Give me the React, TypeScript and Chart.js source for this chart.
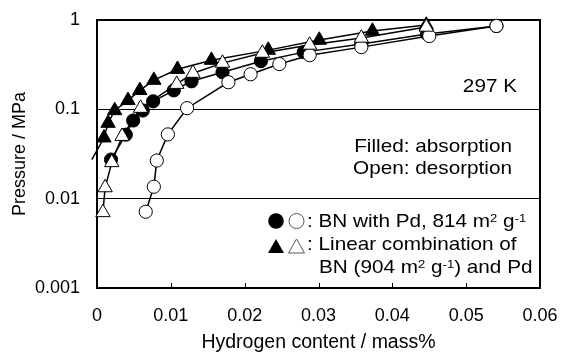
import React, { useEffect, useRef } from 'react';
import { Chart, registerables } from 'chart.js';

Chart.register(...registerables);

const FONT = "'Liberation Sans', Arial, Helvetica, sans-serif";

// Axis ticks
const xTickValues = [0, 0.01, 0.02, 0.03, 0.04, 0.05, 0.06];
const xTickLabels = ['0', '0.01', '0.02', '0.03', '0.04', '0.05', '0.06'];
const yTickValues = [0.001, 0.01, 0.1, 1];
const yTickLabels = ['0.001', '0.01', '0.1', '1'];

// Filled triangles: linear combination, absorption (first point = fitted line start, no marker)
const combAbsX = [-0.0007, 0.00095, 0.0015, 0.0024, 0.0042, 0.0058, 0.0077, 0.0109, 0.0155, 0.0232, 0.0301, 0.0373, 0.0446];
const combAbsP = [0.0274, 0.048, 0.070, 0.097, 0.126, 0.163, 0.212, 0.281, 0.355, 0.46, 0.596, 0.752, 0.879];

// Open triangles: linear combination, desorption
const combDesX = [0.0008, 0.0011, 0.002, 0.0034, 0.0059, 0.0108, 0.013, 0.017, 0.0224, 0.0288, 0.0358, 0.0446];
const combDesP = [0.007, 0.0133, 0.0254, 0.05, 0.103, 0.191, 0.254, 0.329, 0.426, 0.524, 0.628, 0.834];

// Filled circles: BN with Pd, absorption
const bnAbsX = [0.0019, 0.0039, 0.0049, 0.0062, 0.0076, 0.0104, 0.0128, 0.017, 0.0222, 0.028, 0.0358, 0.0447, 0.0541];
const bnAbsP = [0.0274, 0.052, 0.075, 0.097, 0.123, 0.163, 0.206, 0.26, 0.346, 0.437, 0.538, 0.696, 0.857];

// Open circles: BN with Pd, desorption
const bnDesX = [0.0066, 0.0077, 0.0081, 0.0096, 0.0122, 0.0178, 0.0208, 0.0247, 0.0288, 0.0358, 0.045, 0.0541];
const bnDesP = [0.00714, 0.0136, 0.0267, 0.0524, 0.103, 0.201, 0.247, 0.321, 0.404, 0.497, 0.661, 0.857];

const xTitle = 'Hydrogen content / mass%';
const yTitle = 'Pressure / MPa';
const tempLabel = '297 K';
const noteLines = ['Filled: absorption', 'Open: desorption'];
type Seg = { t: string; sup?: boolean };
const legendLine1: Seg[] = [{ t: ': BN with Pd, 814 m' }, { t: '2', sup: true }, { t: ' g' }, { t: '-1', sup: true }];
const legendLine2: Seg[] = [{ t: ': Linear combination of' }];
const legendLine3: Seg[] = [{ t: 'BN (904 m' }, { t: '2', sup: true }, { t: ' g' }, { t: '-1', sup: true }, { t: ') and Pd' }];

const pts = (xs: number[], ps: number[]) => xs.map((x, i) => ({ x, y: ps[i] }));

function drawRich(ctx: CanvasRenderingContext2D, x: number, y: number, segs: Seg[], align: 'left' | 'right', size: number, sx: number) {
  ctx.save();
  ctx.translate(x, y);
  ctx.scale(sx, 1);
  ctx.textBaseline = 'alphabetic';
  ctx.textAlign = 'left';
  ctx.fillStyle = '#000';
  const fonts = segs.map((s) => (s.sup ? `${size * 0.63}px ${FONT}` : `${size}px ${FONT}`));
  let total = 0;
  segs.forEach((s, i) => {
    ctx.font = fonts[i];
    total += ctx.measureText(s.t).width;
  });
  let cx = align === 'right' ? -total : 0;
  segs.forEach((s, i) => {
    ctx.font = fonts[i];
    ctx.fillText(s.t, cx, s.sup ? -size * 0.28 : 0);
    cx += ctx.measureText(s.t).width;
  });
  ctx.restore();
}

const framePlugin = {
  id: 'framePlugin',
  beforeDatasetsDraw(chart: any) {
    const { ctx, chartArea } = chart;
    const { left, top, right, bottom } = chartArea;
    ctx.save();
    ctx.strokeStyle = '#000';
    ctx.lineWidth = 2;
    ctx.strokeRect(left, top, right - left, bottom - top);
    ctx.lineWidth = 1;
    const xs = chart.scales.x;
    xTickValues.slice(1, -1).forEach((v) => {
      const px = Math.round(xs.getPixelForValue(v)) + 0.5;
      ctx.beginPath();
      ctx.moveTo(px, bottom);
      ctx.lineTo(px, bottom - 5);
      ctx.stroke();
    });
    ctx.restore();
  },
  afterDatasetsDraw(chart: any) {
    const { ctx } = chart;
    const S = 18.5;
    const SX = 1.12;
    drawRich(ctx, 517, 92, [{ t: tempLabel }], 'right', S, SX);
    drawRich(ctx, 512, 152, [{ t: noteLines[0] }], 'right', S, SX);
    drawRich(ctx, 512, 174, [{ t: noteLines[1] }], 'right', S, SX);
    drawRich(ctx, 307, 227, legendLine1, 'left', S, SX);
    drawRich(ctx, 307, 250, legendLine2, 'left', S, SX);
    drawRich(ctx, 319, 273, legendLine3, 'left', S, SX);
    // legend symbols
    ctx.save();
    ctx.fillStyle = '#000';
    ctx.beginPath();
    ctx.arc(276, 221, 7.8, 0, Math.PI * 2);
    ctx.fill();
    ctx.strokeStyle = '#555';
    ctx.lineWidth = 1;
    ctx.beginPath();
    ctx.arc(296.5, 221, 7.5, 0, Math.PI * 2);
    ctx.stroke();
    const tri = (cx: number, cy: number, w: number, h: number) => {
      ctx.beginPath();
      ctx.moveTo(cx, cy - h / 2);
      ctx.lineTo(cx + w / 2, cy + h / 2);
      ctx.lineTo(cx - w / 2, cy + h / 2);
      ctx.closePath();
    };
    tri(276, 246, 16, 14);
    ctx.fill();
    tri(296.5, 246, 16, 14);
    ctx.stroke();
    ctx.restore();
  },
};

export default function App() {
  const ref = useRef<HTMLCanvasElement>(null);
  useEffect(() => {
    if (!ref.current) return;
    const triR = 8.3;
    const circR = 6.6;
    const chart = new Chart(ref.current, {
      type: 'scatter',
      data: {
        datasets: [
          {
            label: 'Linear combination desorption',
            data: pts(combDesX, combDesP),
            showLine: true,
            borderColor: '#000',
            borderWidth: 1.5,
            pointStyle: 'triangle',
            pointRadius: triR,
            pointBorderWidth: 1,
            pointBorderColor: '#000',
            pointBackgroundColor: '#fff',
            backgroundColor: '#fff',
            order: 0,
            clip: false,
          },
          {
            label: 'BN with Pd desorption',
            data: pts(bnDesX, bnDesP),
            showLine: true,
            borderColor: '#000',
            borderWidth: 1.5,
            pointStyle: 'circle',
            pointRadius: circR,
            pointBorderWidth: 1,
            pointBorderColor: '#000',
            pointBackgroundColor: '#fff',
            backgroundColor: '#fff',
            order: 1,
            clip: false,
          },
          {
            label: 'Linear combination absorption',
            data: pts(combAbsX, combAbsP),
            showLine: true,
            borderColor: '#000',
            borderWidth: 1.5,
            pointStyle: 'triangle',
            pointRadius: (c: any) => (c.dataIndex === 0 ? 0 : triR),
            pointBorderWidth: 1,
            pointBorderColor: '#000',
            pointBackgroundColor: '#000',
            backgroundColor: '#000',
            order: 2,
            clip: false,
          },
          {
            label: 'BN with Pd absorption',
            data: pts(bnAbsX, bnAbsP),
            showLine: true,
            borderColor: '#000',
            borderWidth: 1.5,
            pointStyle: 'circle',
            pointRadius: circR,
            pointBorderWidth: 1,
            pointBorderColor: '#000',
            pointBackgroundColor: '#000',
            backgroundColor: '#000',
            order: 3,
            clip: false,
          },
        ] as any,
      },
      options: {
        animation: false,
        responsive: false,
        devicePixelRatio: 1,
        layout: { padding: { top: 20, right: 21, bottom: 0, left: 0 } },
        plugins: { legend: { display: false }, tooltip: { enabled: false } },
        elements: { line: { tension: 0 } },
        scales: {
          x: {
            type: 'linear',
            min: 0,
            max: 0.06,
            afterBuildTicks: (s: any) => {
              s.ticks = xTickValues.map((v) => ({ value: v }));
            },
            afterFit: (s: any) => {
              s.height = 73;
              s.paddingLeft = 0;
              s.paddingRight = 0;
            },
            grid: { display: false },
            border: { display: false },
            ticks: {
              autoSkip: false,
              maxRotation: 0,
              padding: 9,
              color: '#000',
              font: { family: FONT, size: 18 },
              callback: (_v: any, i: number) => xTickLabels[i],
            },
            title: {
              display: true,
              text: xTitle,
              color: '#000',
              font: { family: FONT, size: 19.5 },
              padding: { top: 0, bottom: 7 },
            },
          },
          y: {
            type: 'logarithmic',
            min: 0.001,
            max: 1,
            afterBuildTicks: (s: any) => {
              s.ticks = yTickValues.map((v) => ({ value: v }));
            },
            afterFit: (s: any) => {
              s.width = 97;
              s.paddingTop = 0;
              s.paddingBottom = 0;
            },
            grid: { color: '#000', lineWidth: 1, drawTicks: false },
            border: { display: false },
            ticks: {
              autoSkip: false,
              padding: 17,
              color: '#000',
              font: { family: FONT, size: 18 },
              callback: (_v: any, i: number) => yTickLabels[i],
            },
            title: {
              display: true,
              text: yTitle,
              color: '#000',
              font: { family: FONT, size: 18 },
              padding: { top: 9, bottom: 0 },
            },
          },
        },
      } as any,
      plugins: [framePlugin],
    });
    return () => chart.destroy();
  }, []);
  return (
    <div style={{ position: 'fixed', left: 0, top: 0, width: 561, height: 361, background: '#fff' }}>
      <canvas ref={ref} width={561} height={361} style={{ display: 'block' }} />
    </div>
  );
}
